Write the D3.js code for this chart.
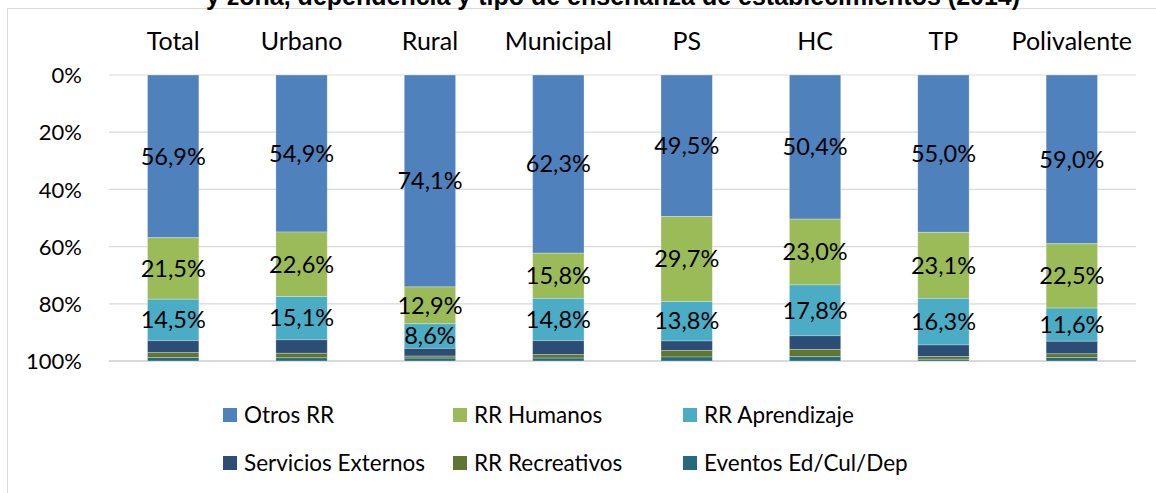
<!DOCTYPE html>
<html>
<head>
<meta charset="utf-8">
<script src="https://cdn.jsdelivr.net/npm/d3@7"></script>
<style>
  body { margin: 0; background: #fff; }
  text { font-family: Lato, "Open Sans", sans-serif; fill: #000; }
  #title { font-family: "Liberation Sans", Arial, sans-serif; font-weight: bold; }
</style>
</head>
<body>
<div id="container"></div>
<script>
// Categories along the top of the chart
var categories = ["Total", "Urbano", "Rural", "Municipal", "PS", "HC", "TP", "Polivalente"]

// Series names, in stacking order (top to bottom)
var seriesNames = ["Otros RR", "RR Humanos", "RR Aprendizaje", "Servicios Externos", "RR Recreativos", "Eventos Ed/Cul/Dep"]

// Values in percent, one array per series (same order as categories)
var otrosRR        = [56.9, 54.9, 74.1, 62.3, 49.5, 50.4, 55.0, 59.0]
var rrHumanos      = [21.5, 22.6, 12.9, 15.8, 29.7, 23.0, 23.1, 22.5]
var rrAprendizaje  = [14.5, 15.1,  8.6, 14.8, 13.8, 17.8, 16.3, 11.6]
var servExternos   = [ 4.2,  4.7,  2.7,  4.9,  3.3,  4.8,  4.0,  4.4]
var rrRecreativos  = [ 1.7,  1.6,  0.7,  1.2,  2.3,  2.5,  1.0,  1.3]
var eventos        = [ 1.2,  1.1,  1.0,  1.0,  1.4,  1.5,  0.6,  1.2]

// Which series get a value label inside the bar
var labelled = ["Otros RR", "RR Humanos", "RR Aprendizaje"]

// Y axis ticks
var yTicks = [0, 20, 40, 60, 80, 100]

var title = "y zona, dependencia y tipo de enseñanza de establecimientos (2014)"

// Colors for the series
var colors = ["#4f81bd", "#9bbb59", "#4bacc6", "#2c4d75", "#5f7530", "#276a7c"]

// Dimensions of the SVG
var width = 1156;
var height = 493;
var plot = {left: 109, right: 1136, top: 75, bottom: 361};

var svg = d3.select("#container")
            .append("svg")
            .attr("width", width)
            .attr("height", height)

// Build rows for the stack
var values = [otrosRR, rrHumanos, rrAprendizaje, servExternos, rrRecreativos, eventos]
var rows = categories.map(function(c, i) {
  var row = {category: c}
  seriesNames.forEach(function(s, j) { row[s] = values[j][i] })
  return row
})
var stacked = d3.stack().keys(seriesNames)(rows)

// Scales
var xScale = d3.scaleBand()
               .domain(categories)
               .range([plot.left, plot.right])
               .paddingInner(0.6)
               .paddingOuter(0.3)

var yScale = d3.scaleLinear()
               .domain([0, 100])
               .range([plot.top, plot.bottom])

var colorMap = d3.scaleOrdinal().domain(seriesNames).range(colors)

// Chart frame (cut off at the top and right like the original)
svg.append("rect")
   .attr("x", 7.5)
   .attr("y", 8.5)
   .attr("width", width)
   .attr("height", height)
   .attr("fill", "none")
   .attr("stroke", "#d9d9d9")

// Title, partly outside the picture
svg.append("text")
   .attr("id", "title")
   .attr("x", 613)
   .attr("y", 5)
   .attr("text-anchor", "middle")
   .style("font-size", "25px")
   .text(title)

// Gridlines
svg.append("g")
   .selectAll("line")
   .data(yTicks)
   .enter()
   .append("line")
   .attr("x1", plot.left)
   .attr("x2", plot.right)
   .attr("y1", (d) => yScale(d))
   .attr("y2", (d) => yScale(d))
   .attr("stroke", "#d9d9d9")
   .attr("stroke-width", (d) => d == 100 ? 2 : 1.2)

// Y axis labels
var yAxis = d3.axisLeft(yScale)
              .tickValues(yTicks)
              .tickFormat((d) => d + "%")
              .tickSize(0)
              .tickPadding(0)

svg.append("g")
   .attr("transform", "translate(82, 0)")
   .call(yAxis)
   .call((g) => g.select(".domain").remove())
   .selectAll("text")
   .style("font-size", "22px")
   .style("font-family", "Lato, sans-serif")
   .attr("dy", "0.35em")

// Category labels along the top
var xAxis = d3.axisTop(xScale).tickSize(0).tickPadding(0)

svg.append("g")
   .attr("transform", "translate(0, 50)")
   .call(xAxis)
   .call((g) => g.select(".domain").remove())
   .selectAll("text")
   .style("font-size", "25px")
   .style("font-family", "Lato, sans-serif")
   .attr("dy", 0)

// Stacked bars
var layers = svg.append("g")
                .selectAll("g")
                .data(stacked)
                .enter()
                .append("g")
                .attr("fill", (d) => colorMap(d.key))

layers.selectAll("rect")
      .data((d) => d)
      .enter()
      .append("rect")
      .attr("x", (d) => xScale(d.data.category))
      .attr("y", (d) => yScale(d[0]))
      .attr("width", xScale.bandwidth())
      .attr("height", (d) => yScale(d[1]) - yScale(d[0]))
      .attr("stroke", "#ffffff")
      .attr("stroke-opacity", 0.35)
      .attr("stroke-width", 0.8)

// Value labels in the three big segments
layers.filter((d) => labelled.indexOf(d.key) >= 0)
      .selectAll("text")
      .data((d) => d)
      .enter()
      .append("text")
      .attr("x", (d) => xScale(d.data.category) + xScale.bandwidth() / 2)
      .attr("y", (d) => yScale((d[0] + d[1]) / 2))
      .attr("dy", "0.35em")
      .attr("text-anchor", "middle")
      .style("font-size", "23.5px")
      .text((d) => (d[1] - d[0]).toFixed(1).replace(".", ",") + "%")

// Legend, two rows of three
var legend = svg.append("g")
                .selectAll("g")
                .data(seriesNames)
                .enter()
                .append("g")
                .attr("transform", (d, i) => "translate(" + (223 + (i % 3) * 230) + ", " + (415 + Math.floor(i / 3) * 48) + ")")

legend.append("rect")
      .attr("x", 0)
      .attr("y", -7)
      .attr("width", 14)
      .attr("height", 14)
      .attr("fill", (d) => colorMap(d))

legend.append("text")
      .attr("x", 21)
      .attr("dy", "0.35em")
      .style("font-size", "22.5px")
      .text((d) => d)
</script>
</body>
</html>
